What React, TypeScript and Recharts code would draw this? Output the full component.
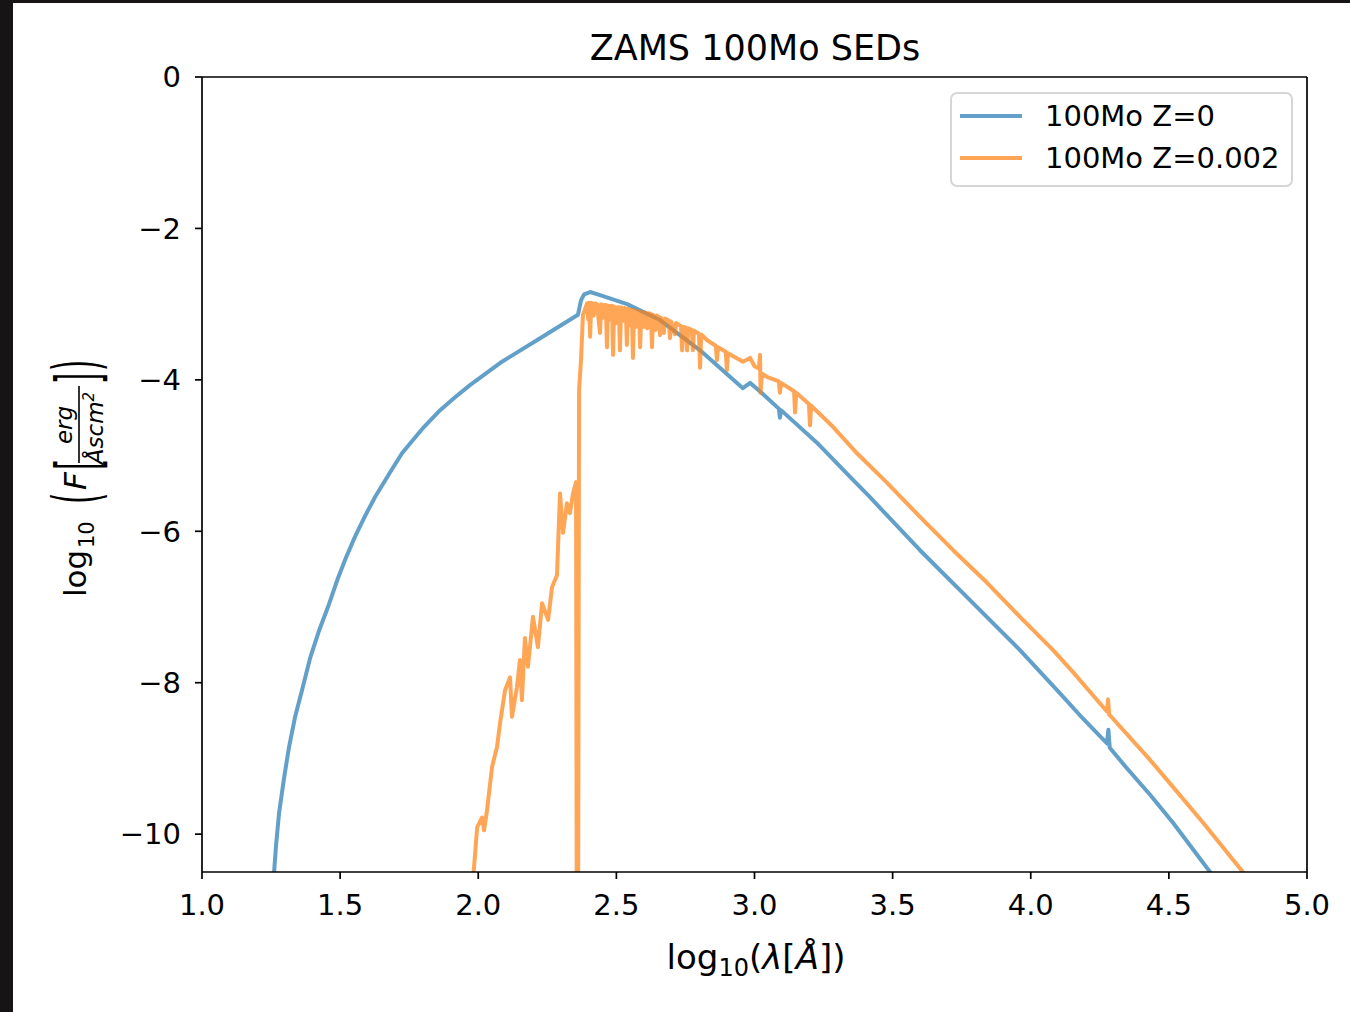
import React from 'react';
import { LineChart, Line, XAxis, YAxis, Legend, ReferenceLine } from 'recharts';

// log10 wavelength [Å] / log10 flux
const LOG_LAMBDA_Z0 = [
  1.253, 1.261, 1.268, 1.279, 1.297, 1.315, 1.337, 1.362, 1.391, 1.424, 1.46, 1.492,
  1.521, 1.554, 1.59, 1.626, 1.681, 1.724, 1.76, 1.804, 1.862, 1.916, 1.97, 2.086,
  2.224, 2.361, 2.372, 2.383, 2.405, 2.441, 2.539, 2.658, 2.803, 2.958, 2.984, 3.013,
  3.088, 3.092, 3.096, 3.226, 3.346, 3.418, 3.599, 3.78, 3.961, 4.106, 4.178, 4.276,
  4.281, 4.286, 4.348, 4.432, 4.515, 4.649, 4.69,
];
const LOG_F_Z0 = [
  -10.67, -10.5, -10.15, -9.72, -9.26, -8.85, -8.45, -8.1, -7.68, -7.31, -6.96, -6.62,
  -6.35, -6.07, -5.8, -5.55, -5.22, -4.97, -4.81, -4.62, -4.4, -4.23, -4.07, -3.76,
  -3.45, -3.14, -2.95, -2.87, -2.84, -2.88, -3.0, -3.21, -3.61, -4.11, -4.04, -4.13,
  -4.38, -4.5, -4.4, -4.83, -5.28, -5.55, -6.25, -6.91, -7.57, -8.14, -8.43, -8.8,
  -8.62, -8.86, -9.13, -9.48, -9.85, -10.5, -10.75,
];

const LOG_LAMBDA_Z002 = [
  1.981, 1.996, 2.014, 2.021, 2.032, 2.05, 2.068, 2.079, 2.097, 2.115, 2.122, 2.14,
  2.151, 2.158, 2.169, 2.18, 2.198, 2.216, 2.231, 2.253, 2.267, 2.285, 2.296, 2.307,
  2.321, 2.332, 2.343, 2.354, 2.357, 2.361, 2.365, 2.372, 2.379, 2.394,
  2.398, 2.401, 2.405, 2.409, 2.418, 2.422, 2.43, 2.436, 2.441, 2.445, 2.452, 2.456,
  2.462, 2.466, 2.47, 2.477, 2.48, 2.484, 2.488, 2.492, 2.5, 2.504, 2.509, 2.513,
  2.517, 2.525, 2.529, 2.534, 2.538, 2.542, 2.549, 2.552, 2.556, 2.56, 2.564, 2.572,
  2.576, 2.582, 2.586, 2.59, 2.6, 2.604, 2.612, 2.616, 2.625, 2.629, 2.633, 2.642,
  2.646, 2.654, 2.658, 2.662, 2.672, 2.676, 2.69, 2.694, 2.698, 2.712, 2.716, 2.734,
  2.738, 2.742, 2.752, 2.756, 2.76, 2.773, 2.777, 2.781, 2.799, 2.803, 2.807, 2.83,
  2.86, 2.864, 2.868, 2.896, 2.9, 2.904, 2.958, 2.984, 3.0, 3.016, 3.02, 3.022,
  3.027, 3.045, 3.088, 3.092, 3.096, 3.143, 3.147, 3.151, 3.197, 3.201, 3.205, 3.284,
  3.371, 3.48, 3.599, 3.719, 3.842, 3.961, 4.081, 4.153, 4.276, 4.28, 4.284, 4.432,
  4.504, 4.624, 4.768, 4.794,
];
const LOG_F_Z002 = [
  -10.61, -9.91, -9.78, -9.95, -9.68, -9.11, -8.85, -8.53, -8.1, -7.93, -8.45, -8.06,
  -7.7, -8.23, -7.41, -7.79, -7.13, -7.53, -6.95, -7.17, -6.74, -6.58, -5.5, -6.02,
  -5.63, -5.76, -5.5, -5.35, -12, -12, -4.13, -3.74, -3.14, -2.99,
  -3.2, -2.98, -3.43, -2.98, -3.15, -2.99, -3.0, -3.22, -3.38, -3.0, -3.18, -3.01,
  -3.01, -3.57, -3.02, -3.2, -3.02, -3.02, -3.67, -3.03, -3.25, -3.04, -3.04, -3.61,
  -3.04, -3.22, -3.05, -3.06, -3.54, -3.06, -3.28, -3.07, -3.08, -3.71, -3.08, -3.3,
  -3.09, -3.1, -3.57, -3.1, -3.3, -3.11, -3.32, -3.12, -3.13, -3.57, -3.14, -3.34,
  -3.15, -3.17, -3.41, -3.18, -3.38, -3.19, -3.22, -3.45, -3.23, -3.4, -3.25, -3.29,
  -3.61, -3.3, -3.31, -3.61, -3.32, -3.34, -3.61, -3.35, -3.39, -3.84, -3.4, -3.48,
  -3.55, -3.74, -3.57, -3.63, -3.87, -3.65, -3.76, -3.71, -3.82, -3.85, -3.67, -4.17,
  -3.92, -3.96, -4.02, -4.17, -4.04, -4.15, -4.43, -4.17, -4.32, -4.6, -4.34, -4.62,
  -4.97, -5.36, -5.81, -6.25, -6.68, -7.13, -7.57, -7.86, -8.38, -8.22, -8.42, -9.02,
  -9.33, -9.85, -10.5, -10.62,
];

const SERIES_NAMES = ['100Mo Z=0', '100Mo Z=0.002'];
const SERIES_COLORS = ['#1f77b4', '#ff7f0e'];
const X_TICKS = [1, 1.5, 2, 2.5, 3, 3.5, 4, 4.5, 5];
const Y_TICKS = [0, -2, -4, -6, -8, -10];

const FONT = '"DejaVu Sans", sans-serif';

const zip = (xs: number[], ys: number[]) => xs.map((x, i) => ({ x, y: ys[i] }));
const dataZ0 = zip(LOG_LAMBDA_Z0, LOG_F_Z0);
const dataZ002 = zip(LOG_LAMBDA_Z002, LOG_F_Z002);

const fmtY = (v: number) => (v < 0 ? `\u2212${Math.abs(v)}` : `${v}`);

function SedLegend() {
  return (
    <div
      style={{
        position: 'relative',
        width: 343,
        height: 95,
        boxSizing: 'border-box',
        border: '2px solid #d6d6d6',
        borderRadius: 7,
        background: 'rgba(255,255,255,0.8)',
        fontFamily: FONT,
        fontSize: 29,
        color: '#000',
      }}
    >
      {SERIES_NAMES.map((name, i) => (
        <React.Fragment key={name}>
          <svg width={62} height={6} style={{ position: 'absolute', left: 8, top: 19 + i * 42 }}>
            <line x1={0} x2={62} y1={3} y2={3} stroke={SERIES_COLORS[i]} strokeOpacity={0.7} strokeWidth={4} />
          </svg>
          <span style={{ position: 'absolute', left: 93, top: 1 + i * 42, lineHeight: '42px', whiteSpace: 'nowrap' }}>
            {name}
          </span>
        </React.Fragment>
      ))}
    </div>
  );
}

// title and axis labels (mathtext-like)
function Labels() {
  return (
    <svg width={1350} height={1012} style={{ position: 'absolute', left: 0, top: 0, pointerEvents: 'none' }}>
      <text x={755} y={60} textAnchor="middle" fontSize={35} fontFamily={FONT} fill="#000">
        ZAMS 100Mo SEDs
      </text>
      <text x={756} y={969} textAnchor="middle" fontSize={34} fontFamily={FONT} fill="#000">
        log
        <tspan fontSize={24} dy={7}>10</tspan>
        <tspan dy={-7}>(</tspan>
        <tspan fontStyle="italic">λ</tspan>
        [<tspan fontStyle="italic">Å</tspan>])
      </text>
      <g transform="translate(86,600) rotate(-90)" fontFamily={FONT} fill="#000">
        <text x={3} y={0} fontSize={31}>log</text>
        <text x={52} y={8} fontSize={21}>10</text>
        <text transform="translate(96,13) scale(1,2.2)" fontSize={29}>(</text>
        <text x={110} y={0} fontSize={31} fontStyle="italic">F</text>
        <text transform="translate(130,13) scale(1,2.1)" fontSize={29}>[</text>
        <text x={175} y={-14} fontSize={23} fontStyle="italic" textAnchor="middle">erg</text>
        <line x1={137} x2={214} y1={-7} y2={-7} stroke="#000" strokeWidth={1.6} />
        <text x={172} y={17} fontSize={23} fontStyle="italic" textAnchor="middle">
          Åscm<tspan fontSize={15} dy={-9}>2</tspan>
        </text>
        <text transform="translate(216,13) scale(1,2.1)" fontSize={29}>]</text>
        <text transform="translate(229,13) scale(1,2.2)" fontSize={29}>)</text>
      </g>
    </svg>
  );
}

export default function App() {
  const axisStyle = { stroke: '#000', strokeWidth: 1.7 };
  const tickStyle = { fill: '#000', fontSize: 29, fontFamily: FONT };
  return (
    <div style={{ position: 'absolute', left: 0, top: 0, width: 1350, height: 1012, background: '#161414', overflow: 'hidden' }}>
      <div style={{ position: 'absolute', left: 13, top: 3, width: 1337, height: 1009, background: '#fff' }} />
      <div style={{ position: 'absolute', left: 0, top: 0 }}>
        <LineChart width={1350} height={1012} margin={{ top: 77, right: 43, bottom: 100, left: 122 }}>
          <XAxis
            type="number"
            dataKey="x"
            domain={[1, 5]}
            ticks={X_TICKS}
            interval={0}
            allowDataOverflow
            tickFormatter={(v: number) => v.toFixed(1)}
            height={40}
            tickSize={7}
            tickMargin={15}
            axisLine={axisStyle}
            tickLine={axisStyle}
            tick={tickStyle}
          />
          <YAxis
            type="number"
            dataKey="y"
            domain={[-10.5, 0]}
            ticks={Y_TICKS}
            interval={0}
            allowDataOverflow
            tickFormatter={fmtY}
            width={80}
            tickSize={7}
            tickMargin={14}
            axisLine={axisStyle}
            tickLine={axisStyle}
            tick={tickStyle}
          />
          <ReferenceLine y={0} stroke="#000" strokeWidth={1.7} />
          <ReferenceLine x={5} stroke="#000" strokeWidth={1.7} />
          <Line
            data={dataZ0}
            dataKey="y"
            name={SERIES_NAMES[0]}
            type="linear"
            stroke={SERIES_COLORS[0]}
            strokeOpacity={0.7}
            strokeWidth={4}
            strokeLinejoin="round"
            dot={false}
            isAnimationActive={false}
          />
          <Line
            data={dataZ002}
            dataKey="y"
            name={SERIES_NAMES[1]}
            type="linear"
            stroke={SERIES_COLORS[1]}
            strokeOpacity={0.7}
            strokeWidth={4}
            strokeLinejoin="round"
            dot={false}
            isAnimationActive={false}
          />
          <Legend
            verticalAlign="middle"
            content={() => <SedLegend />}
            wrapperStyle={{ left: 950, top: 92, width: 343, height: 95 }}
          />
        </LineChart>
      </div>
      <Labels />
    </div>
  );
}
